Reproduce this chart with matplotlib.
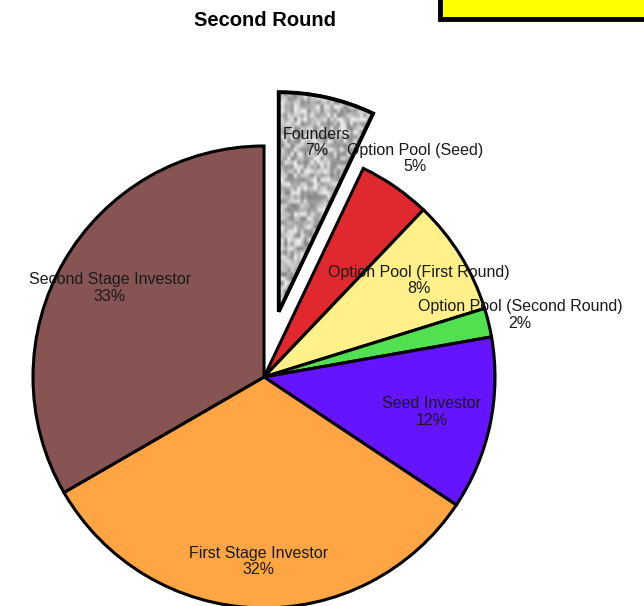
import numpy as np
import matplotlib
matplotlib.use("Agg")
import matplotlib.pyplot as plt
from matplotlib.patches import Rectangle, Wedge

labels = ["Founders", "Option Pool (Seed)", "Option Pool (First Round)",
          "Option Pool (Second Round)", "Seed Investor", "First Stage Investor",
          "Second Stage Investor"]
values = [7, 5, 8, 2, 12, 32, 33]
colors = ["#c8c8c8", "#e0282e", "#fff08a", "#50e050", "#6414ff", "#ffa544", "#875454"]
explode = [0.29, 0, 0, 0, 0, 0, 0]
label_dist = [0.75, 1.15, 0.79, 1.14, 0.74, 0.80, 0.77]

plt.rcParams['font.family'] = ['Liberation Sans', 'DejaVu Sans']

W, H = 644, 606
fig = plt.figure(figsize=(W / 100, H / 100), dpi=100)
ax = fig.add_axes([0, 0, 1, 1])

cx, cy, R = 264, 377, 231
wedges, _ = ax.pie(values, colors=colors, explode=explode, startangle=90,
                   counterclock=False, radius=1,
                   wedgeprops=dict(edgecolor="black", linewidth=2.2))

# Founders slice drawn slightly smaller, as in the reference
w0 = wedges[0]
w0.set_radius(0.95)

# granite texture on the exploded Founders slice
rng = np.random.default_rng(3)
tex = 0.5 + 0.45 * rng.random((70, 70))
img = ax.imshow(tex, cmap='gray', vmin=0, vmax=1, extent=(-0.2, 0.8, 0.1, 1.4),
                interpolation='bilinear', zorder=w0.get_zorder() + 0.1)
img.set_clip_path(w0)
edge = Wedge(w0.center, w0.r, w0.theta1, w0.theta2, facecolor='none',
             edgecolor='black', linewidth=2.8, zorder=w0.get_zorder() + 0.2)
ax.add_patch(edge)

ax.set_xlim(-cx / R, (W - cx) / R)
ax.set_ylim(-(H - cy) / R, cy / R)
ax.set_aspect('auto')
ax.axis('off')

for w, lab, v, d in zip(wedges, labels, values, label_dist):
    th = np.deg2rad((w.theta1 + w.theta2) / 2)
    x0, y0 = w.center
    ax.text(x0 + d * np.cos(th), y0 + d * np.sin(th),
            f"{lab}\n{v}%", ha='center', va='center', fontsize=11.5,
            color='#1a1a1a', linespacing=1.1, zorder=10)

fig.text(265 / W, 1 - 20 / H, "Second Round", ha='center', va='center',
         fontsize=14.5, fontweight='bold')

fig.patches.append(Rectangle((440 / W, 1 - 19 / H), 0.5, 0.2, transform=fig.transFigure,
                             facecolor='#ffff00', edgecolor='black', linewidth=3.5))

fig.savefig("out.png", dpi=100)
